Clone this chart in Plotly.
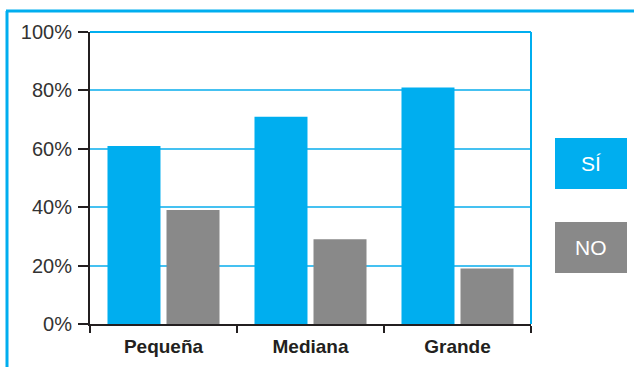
import plotly.graph_objects as go

categories = ["Pequeña", "Mediana", "Grande"]
si_values = [61, 71, 81]
no_values = [39, 29, 19]
y_ticks = [0, 20, 40, 60, 80, 100]
y_tick_labels = ["0%", "20%", "40%", "60%", "80%", "100%"]

BLUE = "#00AEEF"
GRAY = "#898989"
DARK = "#231F20"
FONT = "Liberation Sans, Arial"

W, H = 634, 367
L, R, T, B = 90, 103, 32, 43
PW, PH = W - L - R, H - T - B


def px_x(x):
    return (x - L) / PW


def px_y(y):
    return (H - B - y) / PH


fig = go.Figure()
fig.add_trace(go.Bar(x=categories, y=si_values, name="SÍ", marker_color=BLUE,
                     marker_line_width=0))
fig.add_trace(go.Bar(x=categories, y=no_values, name="NO", marker_color=GRAY,
                     marker_line_width=0))

shapes = [
    # outer frame (top and left edges)
    dict(type="line", xref="paper", yref="paper", x0=px_x(6), x1=px_x(640),
         y0=px_y(11), y1=px_y(11), line=dict(color=BLUE, width=3)),
    dict(type="line", xref="paper", yref="paper", x0=px_x(7), x1=px_x(7),
         y0=px_y(11), y1=px_y(370), line=dict(color=BLUE, width=3)),
    # plot area top and right edges
    dict(type="line", xref="paper", yref="paper", x0=0, x1=1, y0=1, y1=1,
         line=dict(color=BLUE, width=2)),
    dict(type="line", xref="paper", yref="paper", x0=1, x1=1, y0=0, y1=1,
         line=dict(color=BLUE, width=2)),
    # legend boxes
    dict(type="rect", xref="paper", yref="paper", x0=px_x(555), x1=px_x(627),
         y0=px_y(189), y1=px_y(138), fillcolor=BLUE, line_width=0),
    dict(type="rect", xref="paper", yref="paper", x0=px_x(555), x1=px_x(627),
         y0=px_y(273), y1=px_y(222), fillcolor=GRAY, line_width=0),
]

annotations = [
    dict(text="SÍ", xref="paper", yref="paper", x=px_x(591), y=px_y(163.5),
         xanchor="center", yanchor="middle", showarrow=False,
         font=dict(family=FONT, size=21, color="white")),
    dict(text="NO", xref="paper", yref="paper", x=px_x(591), y=px_y(247.5),
         xanchor="center", yanchor="middle", showarrow=False,
         font=dict(family=FONT, size=21, color="white")),
]

fig.update_layout(
    width=W, height=H,
    margin=dict(l=L, r=R, t=T, b=B),
    paper_bgcolor="white", plot_bgcolor="white",
    barmode="group", bargap=0.197, bargroupgap=0.102,
    showlegend=False,
    shapes=shapes, annotations=annotations,
    font=dict(family=FONT, color="#333333"),
)

fig.update_yaxes(
    range=[0, 100], tickvals=y_ticks, ticktext=y_tick_labels,
    showgrid=True, gridcolor="#45C1F1", gridwidth=1.5,
    zeroline=False, showline=True, linecolor=DARK, linewidth=2,
    ticks="outside", ticklen=10, tickwidth=2, tickcolor=DARK,
    tickfont=dict(size=20, color="#333333"), ticklabelstandoff=2,
    automargin=False,
)
fig.update_xaxes(
    range=[-0.5, 2.5], tickson="boundaries",
    showline=True, linecolor=DARK, linewidth=2,
    ticks="outside", ticklen=7, tickwidth=2, tickcolor=DARK,
    tickfont=dict(size=19, color=DARK, family=FONT, weight="bold"),
    ticklabelstandoff=4, automargin=False,
    showgrid=False,
)

fig.write_html("out.html")
